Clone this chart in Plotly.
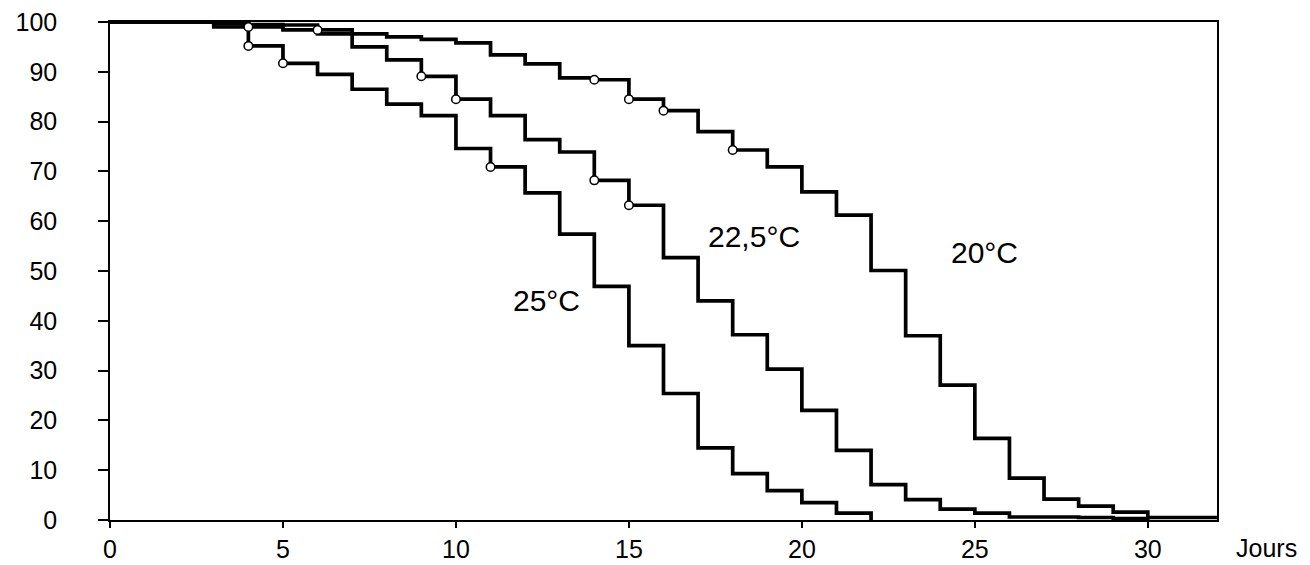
import plotly.graph_objects as go

days = list(range(0, 33))

surv_20 = [100, 100, 100, 99.8, 99.5, 99.4, 98.4, 97.6, 97.0, 96.5, 95.8, 93.4,
           91.6, 88.8, 88.4, 84.5, 82.2, 78.0, 74.3, 70.9, 65.9, 61.2, 50.1, 37.0,
           27.1, 16.4, 8.4, 4.2, 2.8, 1.6, 0.5, 0.5, 0.5]
surv_225 = [100, 100, 100, 99.6, 99.0, 98.4, 97.6, 95.0, 92.4, 89.1, 84.5, 81.2,
            76.4, 73.9, 68.2, 63.2, 52.7, 44.0, 37.2, 30.3, 22.0, 14.0, 7.1, 4.1,
            2.2, 1.4, 0.6, 0.6, 0.5, 0.3, 0.0]
surv_25 = [100, 100, 100, 99.0, 95.2, 91.7, 89.5, 86.5, 83.5, 81.2, 74.6, 70.9,
           65.7, 57.4, 46.9, 35.0, 25.4, 14.5, 9.3, 5.9, 3.5, 1.4, 0.0]

marks_20 = [6, 14, 15, 16, 18]
marks_225 = [4, 9, 10, 14, 15]
marks_25 = [4, 5, 11]

labels = ["20°C", "22,5°C", "25°C"]
label_pos = [(25.27, 53.7), (18.61, 57.0), (12.62, 44.0)]

x_ticks = [0, 5, 10, 15, 20, 25, 30]
y_ticks = [0, 10, 20, 30, 40, 50, 60, 70, 80, 90, 100]

FONT = "Liberation Sans, Arial, Helvetica, sans-serif"

fig = go.Figure()
series = [(surv_20, marks_20), (surv_225, marks_225), (surv_25, marks_25)]
for vals, marks in series:
    xs = days[:len(vals)]
    fig.add_trace(go.Scatter(x=xs, y=vals, mode="lines", line_shape="hv",
                             line=dict(color="black", width=3.7),
                             showlegend=False, hoverinfo="skip"))
for vals, marks in series:
    fig.add_trace(go.Scatter(x=marks, y=[vals[d] for d in marks], mode="markers",
                             marker=dict(symbol="circle", size=8.5, color="white",
                                         line=dict(color="black", width=1.5)),
                             cliponaxis=False, showlegend=False, hoverinfo="skip"))

for txt, (lx, ly) in zip(labels, label_pos):
    fig.add_annotation(x=lx, y=ly, text=txt, showarrow=False,
                       font=dict(size=30, color="black", family=FONT),
                       xanchor="center", yanchor="middle")

fig.add_annotation(x=1.0443, y=-0.057, xref="paper", yref="paper", text="Jours",
                   showarrow=False, font=dict(size=25, color="black", family=FONT),
                   xanchor="center", yanchor="middle")

fig.update_layout(
    width=1310, height=565,
    margin=dict(l=102, r=101, t=14, b=53),
    paper_bgcolor="white", plot_bgcolor="white",
    font=dict(family=FONT, size=25, color="black"),
)
fig.update_xaxes(range=[0, 32], tickvals=x_ticks, ticks="outside", ticklen=6,
                 tickwidth=1.5, tickcolor="black", showgrid=False, zeroline=False,
                 showline=True, linecolor="black", linewidth=1.5, mirror=True,
                 automargin=False, ticklabeloverflow="allow",
                 tickfont=dict(size=25, color="black"))
fig.update_yaxes(range=[0, 100], tickvals=y_ticks, ticks="outside", ticklen=10,
                 tickwidth=1.5, tickcolor="black", showgrid=False, zeroline=False,
                 showline=True, linecolor="black", linewidth=1.5, mirror=True,
                 automargin=False, ticklabeloverflow="allow",
                 tickfont=dict(size=25, color="black"),
                 ticklabelstandoff=36)

fig.write_html("out.html")
